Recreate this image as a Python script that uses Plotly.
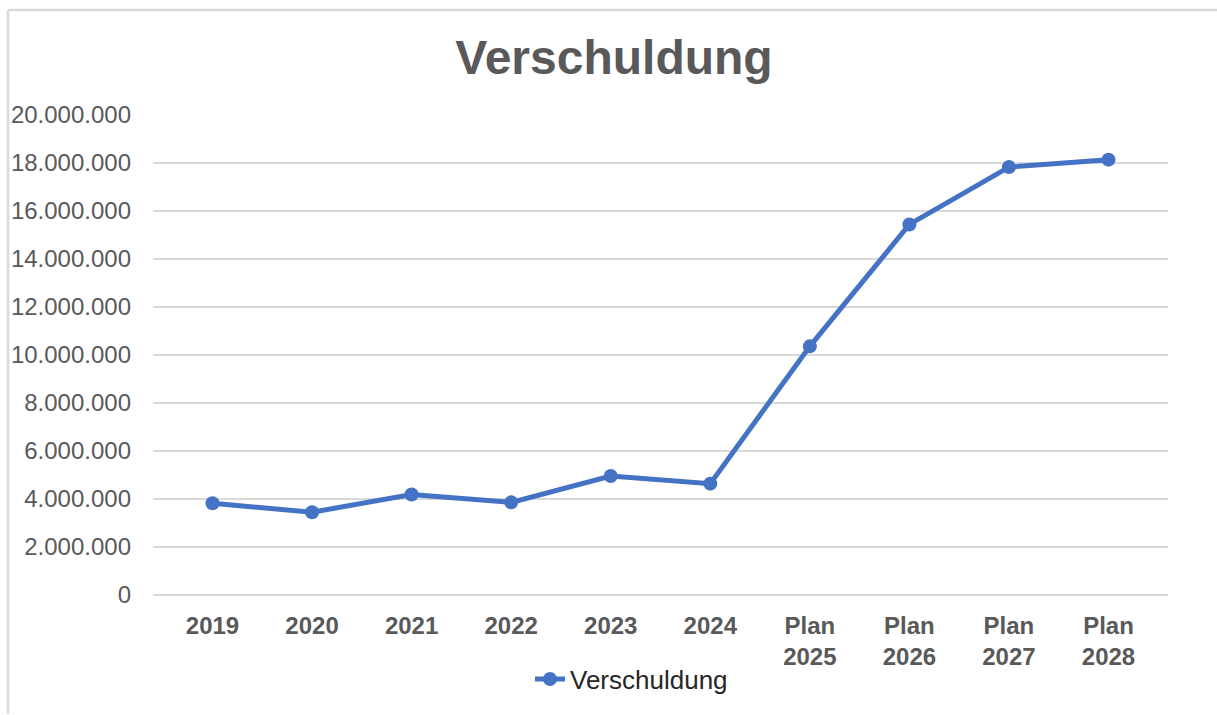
import plotly.graph_objects as go

categories = ["2019", "2020", "2021", "2022", "2023", "2024",
              "Plan<br>2025", "Plan<br>2026", "Plan<br>2027", "Plan<br>2028"]
verschuldung = [3820000, 3450000, 4190000, 3860000, 4960000, 4640000,
                10360000, 15440000, 17830000, 18140000]
y_ticks = [0, 2000000, 4000000, 6000000, 8000000, 10000000,
           12000000, 14000000, 16000000, 18000000, 20000000]

W, H = 1217, 715
L, R, T, B = 153, 49, 115, 115
PW, PH = W - L - R, H - T - B

def px_x(px):
    return (px - L) / PW

def px_y(py):
    return (H - B - py) / PH

FONT = "Liberation Sans, Arial, sans-serif"
GREY = "#595959"
BLUE = "#4472C4"

fig = go.Figure()
fig.add_trace(go.Scatter(
    x=categories, y=verschuldung, mode="lines+markers", name="Verschuldung",
    line=dict(color=BLUE, width=5),
    marker=dict(color=BLUE, size=14),
))

fig.update_layout(
    width=W, height=H,
    margin=dict(l=L, r=R, t=T, b=B),
    paper_bgcolor="white", plot_bgcolor="white",
    separators=",.",
    title=dict(text="<b>Verschuldung</b>", x=614 / W, xref="container", xanchor="center",
               y=1 - 57 / H, yref="container", yanchor="middle",
               font=dict(family=FONT, size=48, color=GREY)),
    showlegend=True,
    legend=dict(orientation="h", x=px_x(530), xanchor="left", y=px_y(685), yanchor="middle",
                font=dict(family=FONT, size=26, color="#262626"), bgcolor="rgba(0,0,0,0)"),
    xaxis=dict(type="category", showgrid=False, zeroline=False, showline=False,
               ticks="", tickfont=dict(family=FONT, size=24, color=GREY),
               ticklabelstandoff=14, tickprefix="<b>", ticksuffix="</b>"),
    yaxis=dict(range=[0, 20000000], tickvals=y_ticks, tickformat=",d",
               showgrid=True, gridcolor="#d9d9d9", gridwidth=2,
               zeroline=True, zerolinecolor="#d9d9d9", zerolinewidth=2,
               showline=False, ticks="", ticklabelstandoff=21,
               tickfont=dict(family=FONT, size=24, color=GREY)),
    shapes=[
        dict(type="line", xref="paper", yref="paper", x0=px_x(8), x1=px_x(W + 5),
             y0=px_y(9), y1=px_y(9), line=dict(color="#d9d9d9", width=2.5)),
        dict(type="line", xref="paper", yref="paper", x0=px_x(8), x1=px_x(8),
             y0=px_y(9), y1=px_y(H + 5), line=dict(color="#d9d9d9", width=2.5)),
    ],
)

fig.write_html("out.html", config={"displayModeBar": False},
               post_script="document.body.style.margin='0';")
